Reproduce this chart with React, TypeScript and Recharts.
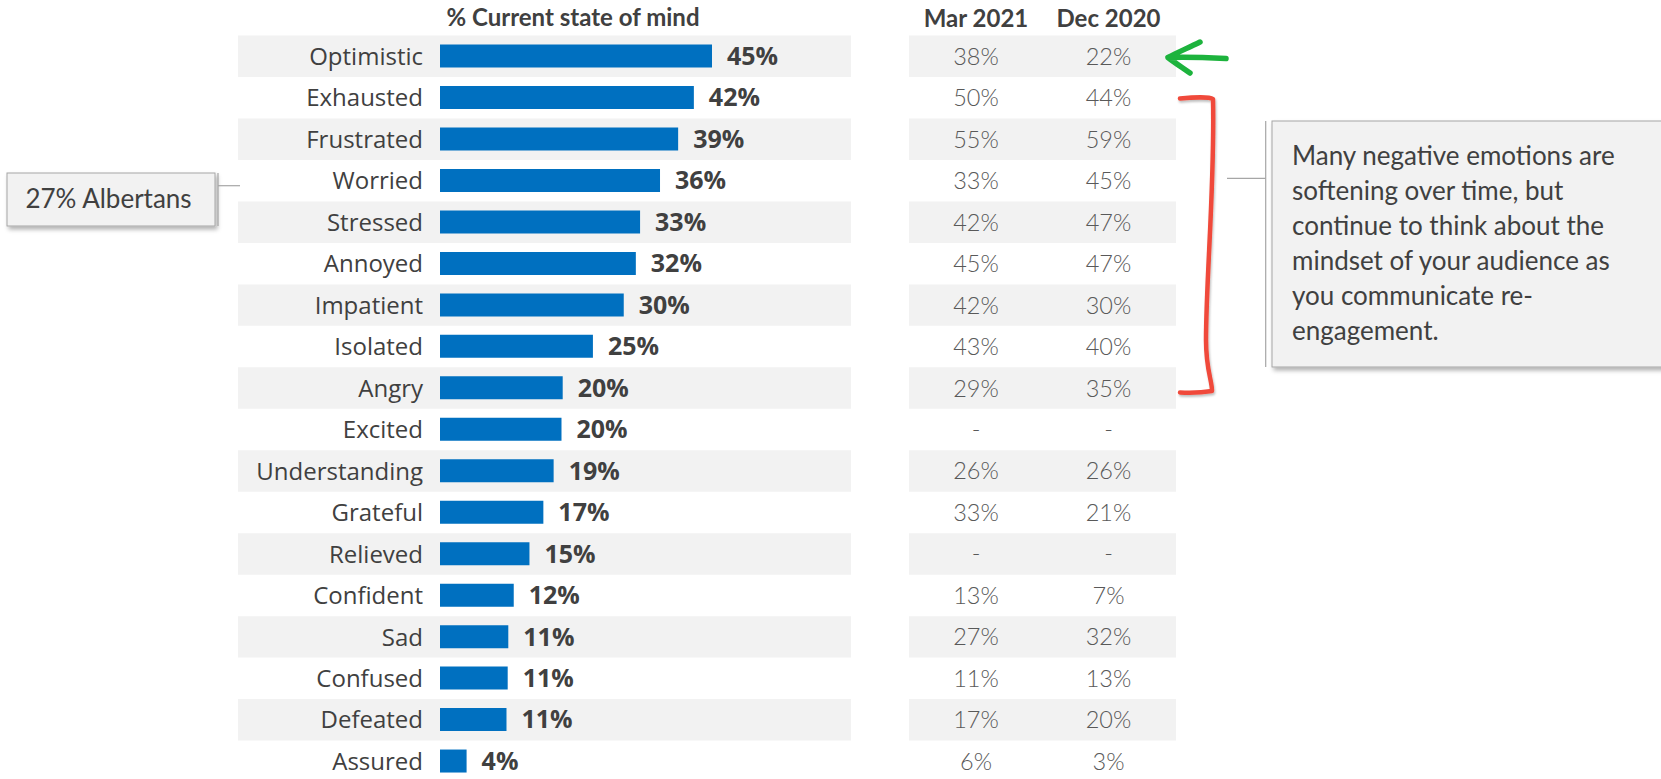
import React from "react";
import { BarChart, Bar, XAxis, YAxis, LabelList, ReferenceArea } from "recharts";

const categories = [
  "Optimistic", "Exhausted", "Frustrated", "Worried", "Stressed", "Annoyed",
  "Impatient", "Isolated", "Angry", "Excited", "Understanding", "Grateful",
  "Relieved", "Confident", "Sad", "Confused", "Defeated", "Assured",
];
// bar lengths
const currentValues = [45, 42, 39.4, 36.4, 33.1, 32.4, 30.4, 25.3, 20.3, 20.1, 18.8, 17.1, 14.8, 12.2, 11.3, 11.2, 11.0, 4.4];
// printed labels
const currentLabels = ["45%", "42%", "39%", "36%", "33%", "32%", "30%", "25%", "20%", "20%", "19%", "17%", "15%", "12%", "11%", "11%", "11%", "4%"];
const mar2021: (number | null)[] = [38, 50, 55, 33, 42, 45, 42, 43, 29, null, 26, 33, null, 13, 27, 11, 17, 6];
const dec2020: (number | null)[] = [22, 44, 59, 45, 47, 47, 30, 40, 35, null, 26, 21, null, 7, 32, 13, 20, 3];
const columnHeaders = ["Mar 2021", "Dec 2020"];
const chartTitle = "% Current state of mind";
const albertaNote = "27% Albertans";
const noteLines = [
  "Many negative emotions are",
  "softening over time, but",
  "continue to think about the",
  "mindset of your audience as",
  "you communicate re-",
  "engagement.",
];

const data = categories.map((name, i) => ({ name, value: currentValues[i], label: currentLabels[i] }));

const W = 1661;
const H = 782;
const PX_PER_PCT = 272 / 45;
const PLOT_LEFT = 440;
const DOMAIN_MAX = 50;
const PLOT_RIGHT = PLOT_LEFT + DOMAIN_MAX * PX_PER_PCT;
const toVal = (px: number) => (px - PLOT_LEFT) / PX_PER_PCT;

const MAR_X = 976;
const DEC_X = 1108.5;
const STRIPE = "#f2f2f2";
const TEXT = "#404040";
const SANS = "'Open Sans', 'Noto Sans', sans-serif";
const GEO = "Lato, 'Open Sans', sans-serif";

const fmt = (v: number | null) => (v == null ? "-" : `${v}%`);

const CategoryTick = (props: any) => {
  const { x, y, payload } = props;
  const i = categories.indexOf(payload.value);
  return (
    <g>
      <text x={x} y={y} dy="0.36em" textAnchor="end" fontFamily={SANS} fontSize={24} fill={TEXT}>
        {payload.value}
      </text>
      <text x={MAR_X} y={y} dy="0.36em" textAnchor="middle" fontFamily={GEO} fontWeight={300} fontSize={23.5} fill="#595959">
        {fmt(mar2021[i])}
      </text>
      <text x={DEC_X} y={y} dy="0.36em" textAnchor="middle" fontFamily={GEO} fontWeight={300} fontSize={23.5} fill="#595959">
        {fmt(dec2020[i])}
      </text>
    </g>
  );
};

export default function App() {
  const striped = categories.filter((_, i) => i % 2 === 0);
  return (
    <div style={{ position: "absolute", left: 0, top: 0, width: 1661, height: 779, overflow: "hidden", background: "#fff" }}>
      <BarChart
        width={W}
        height={H}
        data={data}
        layout="vertical"
        margin={{ top: 35.6, right: W - PLOT_RIGHT, bottom: 0, left: 240 }}
        barSize={23}
      >
        {striped.map((c) => (
          <ReferenceArea key={c + "a"} y1={c} y2={c} x1={toVal(238)} x2={toVal(851)} fill={STRIPE} fillOpacity={1} stroke="none" ifOverflow="visible" />
        ))}
        {striped.map((c) => (
          <ReferenceArea key={c + "b"} y1={c} y2={c} x1={toVal(909)} x2={toVal(1176)} fill={STRIPE} fillOpacity={1} stroke="none" ifOverflow="visible" />
        ))}
        <XAxis type="number" domain={[0, DOMAIN_MAX]} hide />
        <YAxis
          type="category"
          dataKey="name"
          width={200}
          axisLine={false}
          tickLine={false}
          tickSize={0}
          tickMargin={17}
          interval={0}
          tick={<CategoryTick />}
        />
        <Bar dataKey="value" fill="#0070C0" isAnimationActive={false}>
          <LabelList
            dataKey="label"
            position="right"
            offset={15}
            fill={TEXT}
            fontWeight={700}
            fontSize={25}
            fontFamily={SANS}
          />
        </Bar>
      </BarChart>
      <svg width={1661} height={779} style={{ position: "absolute", left: 0, top: 0, pointerEvents: "none" }}>
        <defs>
          <filter id="sh" x="-10%" y="-10%" width="130%" height="140%">
            <feDropShadow dx="2" dy="3" stdDeviation="2" floodColor="#000" floodOpacity="0.3" />
          </filter>
          <filter id="sh2" x="-50%" y="-10%" width="200%" height="120%">
            <feDropShadow dx="1" dy="2" stdDeviation="1.2" floodColor="#000" floodOpacity="0.25" />
          </filter>
        </defs>
        <text x={573} y={26} textAnchor="middle" fontFamily={GEO} fontWeight={700} fontSize={24} fill={TEXT}>{chartTitle}</text>
        <text x={MAR_X} y={26.5} textAnchor="middle" fontFamily={GEO} fontWeight={700} fontSize={24} fill={TEXT}>{columnHeaders[0]}</text>
        <text x={DEC_X} y={26.5} textAnchor="middle" fontFamily={GEO} fontWeight={700} fontSize={24} fill={TEXT}>{columnHeaders[1]}</text>

        {/* Albertans callout */}
        <rect x={7} y={173} width={208} height={53} fill="#f2f2f2" stroke="#a6a6a6" strokeWidth={1} filter="url(#sh)" />
        <line x1={218} y1={173} x2={218} y2={226} stroke="#a6a6a6" strokeWidth={1.2} />
        <line x1={218} y1={185.7} x2={240} y2={185.7} stroke="#a6a6a6" strokeWidth={1.2} />
        <text x={108.5} y={208} textAnchor="middle" fontFamily={GEO} fontSize={26} fill={TEXT}>{albertaNote}</text>

        {/* Right callout */}
        <rect x={1272} y={121} width={420} height={246} fill="#f2f2f2" stroke="#a6a6a6" strokeWidth={1} filter="url(#sh)" />
        <line x1={1265.7} y1={121} x2={1265.7} y2={367} stroke="#a6a6a6" strokeWidth={1.2} />
        <line x1={1227} y1={178.3} x2={1265.7} y2={178.3} stroke="#a6a6a6" strokeWidth={1.2} />
        {noteLines.map((l, i) => (
          <text key={i} x={1292} y={165 + i * 35} fontFamily={GEO} fontSize={26} fill={TEXT}>{l}</text>
        ))}

        {/* Red bracket */}
        <path
          d="M1180,98.5 C1195,97 1210,97 1213,99 C1215,180 1206,280 1206,340 C1206,370 1212,380 1212,391 C1200,393 1190,393 1180,392.5"
          fill="none" stroke="#f04a3a" strokeWidth={4.5} strokeLinecap="round" strokeLinejoin="round" filter="url(#sh2)"
        />
        {/* Green arrow */}
        <path
          d="M1226,58.5 C1205,57.5 1185,57 1168,57.5 M1200,42 C1188,48 1176,53 1168,57.5 C1175,63 1183,68 1190,73"
          fill="none" stroke="#1db33d" strokeWidth={5.5} strokeLinecap="round" strokeLinejoin="round"
        />
      </svg>
    </div>
  );
}
